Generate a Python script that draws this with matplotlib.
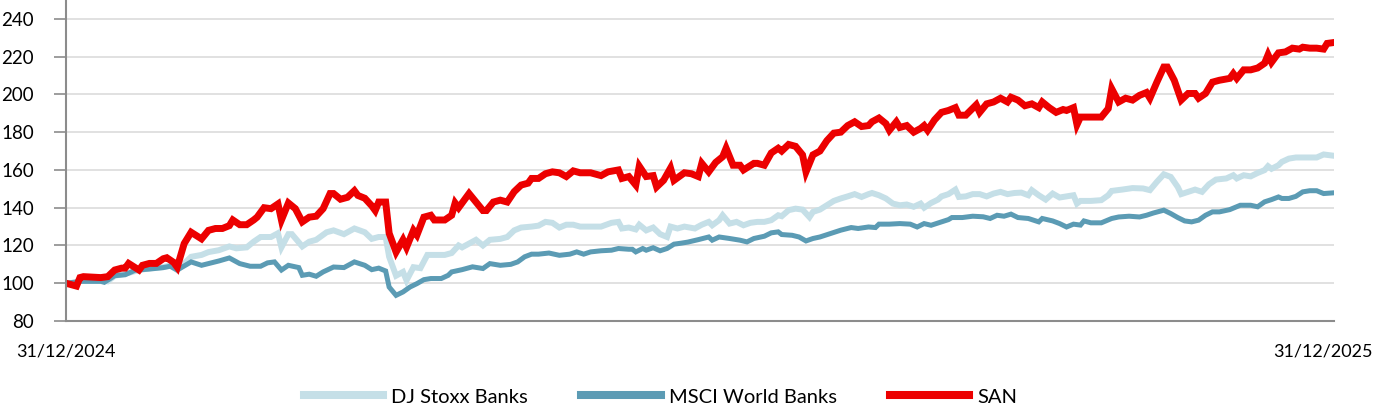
import matplotlib
matplotlib.use("Agg")
import matplotlib.pyplot as plt
from matplotlib.transforms import ScaledTranslation

# days since 31/12/2024 and rebased values (100 = start)
san_days = [0, 3, 4, 5, 10, 12, 14, 16, 17, 18, 21, 22, 24, 26, 28, 29, 31, 32, 34, 36,
            39, 41, 43, 45, 47, 48, 50, 52, 54, 55, 57, 59, 61, 62, 64, 66, 68, 70, 72, 74,
            76, 77, 79, 81, 83, 84, 86, 88, 89, 90, 92, 93, 95, 97, 98, 100, 101, 103, 105, 106,
            109, 111, 112, 113, 115, 116, 118, 120, 121, 123, 125, 127, 129, 131, 133, 134, 136, 138, 140, 142,
            144, 146, 148, 151, 154, 156, 159, 160, 162, 164, 165, 167, 169, 170, 172, 174, 175, 178, 180, 182,
            183, 185, 187, 189, 190, 192, 194, 195, 198, 199, 201, 203, 205, 206, 208, 210, 212, 213, 215, 217,
            219, 221, 223, 225, 227, 229, 231, 232, 234, 236, 237, 239, 240, 242, 244, 246, 247, 248, 250, 252,
            254, 256, 257, 259, 262, 263, 265, 267, 269, 271, 272, 274, 276, 278, 280, 281, 283, 285, 287, 288,
            290, 291, 292, 294, 296, 298, 300, 301, 303, 305, 307, 309, 311, 312, 314, 316, 317, 319, 321, 323,
            325, 326, 328, 330, 332, 335, 336, 337, 339, 341, 343, 345, 346, 347, 349, 351, 353, 355, 356, 358,
            360, 362, 363, 365]
san_vals = [100, 98.5, 103, 103.5, 103, 103.5, 107, 108, 108, 110.5, 107, 109.5, 110.5, 110.5, 113, 113.5, 111, 108.5, 121, 127,
            123.5, 128, 129, 129, 130.5, 133.5, 131, 131, 133.5, 135, 140, 139.5, 142, 133.5, 142.5, 139.5, 132.5, 135, 135.5, 139.5,
            147.5, 147.5, 144.5, 145.5, 149, 146.5, 145, 141, 138.5, 143, 143, 126.5, 116.5, 123, 119, 128, 125.5, 135, 136, 133.5,
            133.5, 136, 142.5, 140, 145, 147.5, 143, 138.5, 138.5, 143, 144, 143, 148.5, 152, 153, 155.5, 155.5, 158, 159, 158.5,
            156.5, 159.5, 158.5, 158.5, 157, 159, 160, 155.5, 156.5, 152, 162, 156.5, 157, 151, 154.5, 161, 154.5, 158.5, 158, 156.5,
            163.5, 159, 164, 167, 171.5, 162.5, 162.5, 160, 163.5, 163.5, 162.5, 169, 171.5, 170, 173.5, 172.5, 168, 159, 168, 170,
            175.5, 179.5, 180, 183.5, 185.5, 183, 183.5, 185.5, 187.5, 184.5, 181, 185.5, 182.5, 183.5, 180, 182, 183.5, 181, 186.5, 190.5,
            191.5, 193, 189, 189, 194.5, 190.5, 195, 196, 198, 196, 198.5, 197, 194, 195, 193, 196, 193, 190.5, 192, 191.5,
            193, 184, 188, 188, 188, 188, 192.5, 203, 196, 198, 197, 199.5, 201, 198, 206.5, 214.5, 214.5, 207.5, 197, 200.5,
            200.5, 198, 200.5, 206.5, 207.5, 208.5, 211, 208.5, 213, 213, 214, 216.5, 221, 217, 222, 222.5, 224.5, 224, 225, 224.5,
            224.5, 224, 227, 227.5]

stoxx_days = [0, 3, 4, 10, 12, 14, 17, 20, 24, 28, 30, 32, 36, 39, 41, 44, 47, 49, 52, 54,
              56, 59, 61, 62, 64, 65, 68, 70, 72, 75, 77, 80, 83, 86, 88, 90, 92, 93, 95, 97,
              98, 100, 102, 104, 106, 109, 111, 113, 114, 116, 118, 120, 122, 125, 127, 129, 131, 134, 136, 138,
              140, 142, 144, 146, 148, 151, 154, 157, 159, 160, 162, 164, 165, 167, 169, 171, 173, 174, 176, 178,
              181, 183, 185, 186, 188, 189, 191, 193, 195, 197, 199, 201, 203, 205, 206, 208, 210, 212, 214, 215,
              217, 219, 221, 223, 225, 227, 229, 231, 232, 234, 236, 238, 240, 242, 244, 246, 247, 249, 251, 252,
              254, 256, 257, 259, 261, 263, 265, 267, 269, 271, 273, 275, 277, 278, 280, 282, 284, 286, 288, 290,
              291, 292, 295, 298, 300, 301, 304, 307, 310, 312, 314, 316, 318, 320, 321, 323, 325, 327, 329, 331,
              334, 336, 337, 339, 341, 343, 345, 346, 347, 349, 350, 352, 354, 358, 360, 362, 365]
stoxx_vals = [100, 99.5, 101.5, 101.5, 101, 104, 105, 106.5, 108, 108.5, 109.5, 107, 114, 115, 116.5, 117.5, 119.5, 118.5, 119, 122,
              124.5, 124.5, 126.5, 119, 126, 126, 119.5, 122, 123, 127, 128, 126, 129, 127, 123.5, 124.5, 124.5, 114, 104, 106,
              101.5, 108.5, 108, 115, 115, 115, 116, 120, 119, 121, 123, 120, 123, 123.5, 124.5, 128, 129.5, 130, 130.5, 132.5,
              132, 129.5, 131, 131, 130, 130, 130, 132, 132.5, 129, 129.5, 128.5, 131, 128, 129.5, 126, 124.5, 130, 129, 130,
              129, 131, 132.5, 130.7, 133.4, 136, 131.6, 132.5, 130.7, 132, 132.5, 132.5, 133.4, 136, 135.5, 138.7, 139.5, 139, 135, 137.8,
              139, 141.3, 143.6, 144.9, 146, 147.2, 145.7, 147.2, 147.8, 146.6, 144.9, 142.2, 141.3, 141.7, 140.5, 142.2, 140, 142.5, 144.3, 146,
              147.2, 149.6, 145.7, 146, 147.2, 147.2, 146, 147.5, 148.4, 147.2, 147.8, 148, 146.6, 149.3, 146.6, 144.3, 147.5, 145.4, 146, 146.6,
              142.2, 143.6, 143.6, 144, 146.6, 148.9, 149.6, 150.4, 150.2, 149.3, 153.7, 157.7, 156.3, 151, 147.2, 148.4, 149.6, 148.4, 152.4, 154.9,
              155.5, 157.2, 155.5, 157.2, 156.6, 158.4, 159.9, 162, 160.6, 162.5, 164.3, 166, 166.6, 166.6, 166.6, 168.2, 167.5]

msci_days = [0, 4, 10, 11, 14, 17, 20, 24, 28, 30, 32, 36, 39, 41, 44, 47, 50, 53, 56, 58,
             60, 62, 64, 67, 68, 70, 72, 74, 77, 80, 83, 86, 88, 90, 92, 93, 95, 97, 99, 101,
             103, 105, 108, 110, 111, 114, 117, 120, 122, 125, 128, 130, 132, 134, 136, 139, 142, 145, 147, 149,
             151, 154, 157, 159, 162, 163, 164, 166, 167, 169, 171, 173, 175, 177, 179, 182, 185, 186, 188, 191,
             194, 196, 198, 201, 203, 205, 206, 209, 211, 213, 215, 217, 220, 223, 226, 228, 231, 233, 234, 237,
             240, 243, 245, 247, 249, 252, 254, 255, 258, 261, 264, 266, 268, 270, 272, 274, 277, 280, 281, 284,
             286, 288, 290, 292, 293, 295, 298, 301, 303, 306, 309, 311, 313, 316, 318, 320, 322, 324, 326, 328,
             330, 332, 335, 338, 341, 343, 345, 347, 349, 350, 352, 354, 356, 358, 360, 362, 365]
msci_vals = [100, 101, 101, 100.5, 104, 104.5, 107, 107.5, 108.3, 109, 107, 111.3, 109.5, 110.4, 111.8, 113.4, 110.4, 109, 109, 110.8,
             111.3, 107, 109.5, 108.3, 104.2, 104.8, 103.7, 106, 108.6, 108.3, 111.3, 109.5, 107.2, 108, 106.5, 98, 93.6, 95.4, 98, 99.8,
             101.9, 102.5, 102.5, 104.2, 106, 107.2, 108.7, 107.8, 110.4, 109.5, 110, 111.3, 114, 115.4, 115.4, 116, 114.8, 115.4, 116.6, 115.4,
             116.6, 117.2, 117.5, 118.4, 118, 118, 116.6, 118.4, 117.5, 118.8, 117.2, 118.4, 120.7, 121.2, 121.8, 123.1, 124.5, 122.8, 124.5, 123.7,
             122.8, 121.9, 123.7, 124.9, 126.7, 127.2, 125.8, 125.4, 124.5, 122.4, 123.7, 124.5, 126.3, 128.1, 129.5, 129, 129.8, 129.5, 131.3, 131.3,
             131.6, 131.3, 129.8, 131.6, 130.7, 132.5, 133.7, 134.8, 134.8, 135.5, 135.2, 134.3, 136, 135.5, 136.6, 134.8, 134.3, 132.5, 134.3, 133,
             131.6, 129.8, 131.3, 130.8, 133, 132, 132, 134.3, 135.1, 135.5, 135.1, 136, 137.2, 138.7, 136.9, 134.8, 133, 132.5, 133.4, 136,
             137.8, 137.8, 139, 141.3, 141.3, 140.5, 143.1, 144.3, 145.7, 144.9, 144.9, 146, 148.4, 149, 149, 147.5, 147.9]

labels = ["DJ Stoxx Banks", "MSCI World Banks", "SAN"]
date_labels = ["31/12/2024", "31/12/2025"]
yticks = [80, 100, 120, 140, 160, 180, 200, 220, 240]

plt.rcParams['font.family'] = ['Lato', 'DejaVu Sans']

fig = plt.figure(figsize=(13.82, 4.08), dpi=100)
ax = fig.add_axes([0.0478, 0.2132, 0.9175, 0.7868])

ax.plot(stoxx_days, stoxx_vals, color="#c5dfe7", lw=4.3, label=labels[0], solid_joinstyle="miter")
ax.plot(msci_days, msci_vals, color="#5b9bb4", lw=3.6, label=labels[1], solid_joinstyle="miter")
ax.plot(san_days, san_vals, color="#ec0000", lw=5.0, label=labels[2], solid_joinstyle="miter")

ax.set_xlim(0, 365)
ax.set_ylim(80, 250)
ax.set_yticks(yticks)
ax.set_yticklabels([str(v) for v in yticks], fontsize=13.5, color="#000000")
ax.set_xticks([0, 365])
ax.set_xticklabels(date_labels, fontsize=13)
ax.tick_params(axis="x", length=0, pad=16)
ax.tick_params(axis="y", length=9, width=1.2, color="#8c8c8c", pad=14)
# nudge the last date label in so it stays inside the figure
lbl = ax.get_xticklabels()[-1]
lbl.set_transform(lbl.get_transform() + ScaledTranslation(-8 / 72, 0, fig.dpi_scale_trans))
ax.grid(axis="y", color="#dcdcdc", lw=1.2)
ax.set_axisbelow(True)
for s in ["top", "right"]:
    ax.spines[s].set_visible(False)
for s in ["left", "bottom"]:
    ax.spines[s].set_color("#8c8c8c")
    ax.spines[s].set_linewidth(1.5)

leg = fig.legend(loc="center", bbox_to_anchor=(0.478, 0.027), ncol=3, frameon=False,
                 fontsize=14.5, handlelength=3.93, handletextpad=0.4, columnspacing=2.64)
for h in leg.get_lines():
    h.set_linewidth(5.8)

fig.savefig("out.png", dpi=100)
